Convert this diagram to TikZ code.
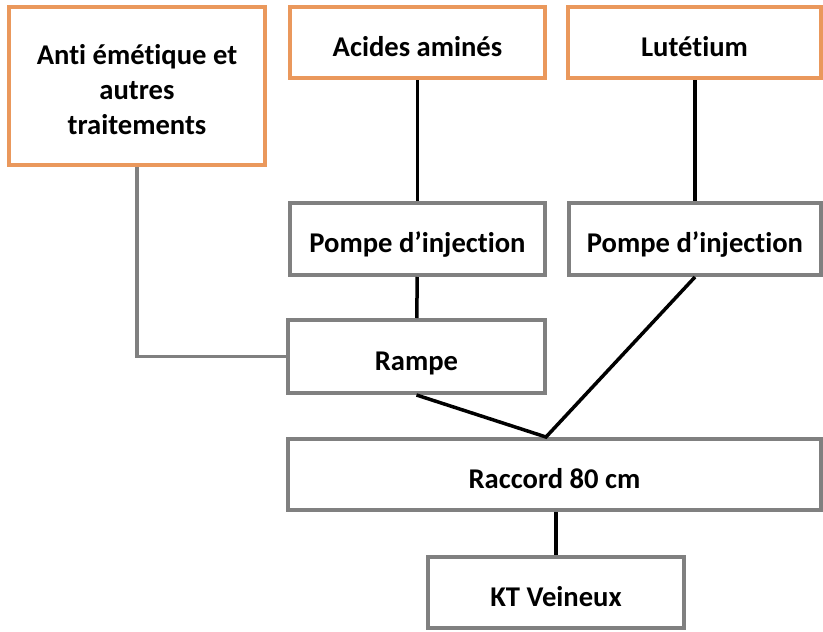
\documentclass[tikz,border=0pt]{standalone}
\usepackage{fontspec}
\setmainfont{Carlito}[Ligatures=NoCommon]
\definecolor{boxorange}{RGB}{234,152,92}
\definecolor{boxgrey}{RGB}{128,128,128}
\begin{document}
\begin{tikzpicture}[x=1pt,y=-1pt,
  box/.style={draw, line width=4pt, fill=white, inner sep=0pt,
    font=\fontsize{28.6}{35}\selectfont\bfseries, text=black},
  oneline/.style={text height=33pt, text depth=6pt},
  source/.style={box, draw=boxorange},
  device/.style={box, oneline, draw=boxgrey},
  link/.style={line width=3.5pt, draw=black},
  sidelink/.style={line width=3.5pt, draw=boxgrey}]
\useasboundingbox (0,0) rectangle (823,632);

% top row: products
\node[source, minimum width=256pt, minimum height=158pt] (anti) at (137,86)
  {\raisebox{-13pt}[0pt][0pt]{\begin{tabular}{@{}c@{}}Anti émétique et\\autres\\traitements\end{tabular}}};
\node[source, oneline, minimum width=255pt, minimum height=71pt] (acides) at (417.5,42.5) {Acides aminés};
\node[source, oneline, minimum width=253pt, minimum height=71pt] (lut) at (694.5,42.5) {Lutétium};

% pumps and manifold
\node[device, minimum width=255pt, minimum height=72pt] (pompeA) at (417.5,239) {Pompe d’injection};
\node[device, minimum width=252pt, minimum height=72pt] (pompeB) at (695,239) {Pompe d’injection};
\node[device, minimum width=257pt, minimum height=73pt] (rampe) at (416.5,356.5) {Rampe};
\node[device, minimum width=533pt, minimum height=71pt] (raccord) at (554.5,474.5) {Raccord 80 cm};
\node[device, minimum width=256pt, minimum height=71pt] (kt) at (556,592.5) {KT Veineux};

\coordinate (join) at (546,437);

% connections
\draw[link] (acides) -- (pompeA);
\draw[link] (lut.south -| pompeB.south) -- (pompeB);
\draw[link] (pompeA) -- (rampe);
\draw[sidelink] (anti.south) |- (rampe.west);
\draw[link, line join=miter] (rampe.south) -- (join) -- (pompeB.south);
\draw[link] (raccord.south -| kt.north) -- (kt.north);
\end{tikzpicture}
\end{document}
